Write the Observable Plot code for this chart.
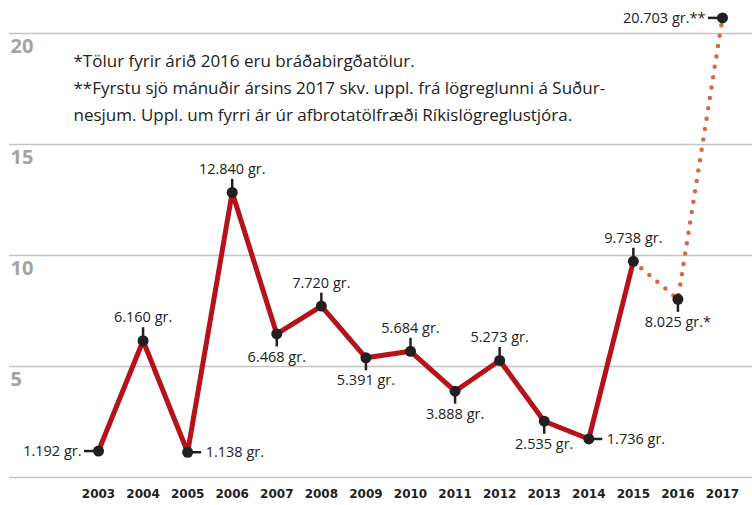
<!DOCTYPE html>
<html>
<head>
<meta charset="utf-8">
<script src="https://cdn.jsdelivr.net/npm/d3@7"></script>
<script src="https://cdn.jsdelivr.net/npm/@observablehq/plot@0.6"></script>
<style>
  html, body { margin: 0; padding: 0; background: #fff; }
  #chart svg { display: block; }
</style>
</head>
<body>
<div id="chart"></div>
<script>
const years = [2003, 2004, 2005, 2006, 2007, 2008, 2009, 2010, 2011, 2012, 2013, 2014, 2015, 2016, 2017];
const grams = [1192, 6160, 1138, 12840, 6468, 7720, 5391, 5684, 3888, 5273, 2535, 1736, 9738, 8025, 20703];
const suffixes = ["", "", "", "", "", "", "", "", "", "", "", "", "", "*", "**"];
const labelSide = ["left", "above", "right", "above", "below", "above", "below", "above", "below", "above", "below", "right", "above", "below", "left"];
const solidYears = [2003, 2004, 2005, 2006, 2007, 2008, 2009, 2010, 2011, 2012, 2013, 2014, 2015];
const dottedYears = [2015, 2016, 2017];
const yTicks = [0, 5, 10, 15, 20];
const yTickLabels = ["5", "10", "15", "20"];
const noteLines = [
  "*Tölur fyrir árið 2016 eru bráðabirgðatölur.",
  "**Fyrstu sjö mánuðir ársins 2017 skv. uppl. frá lögreglunni á Suður-",
  "nesjum. Uppl. um fyrri ár úr afbrotatölfræði Ríkislögreglustjóra."
];

const data = years.map((year, i) => ({
  year,
  value: grams[i] / 1000,
  label: (grams[i] / 1000).toFixed(3) + " gr." + suffixes[i],
  side: labelSide[i]
}));
const bySide = s => data.filter(d => d.side === s);
const solid = data.filter(d => solidYears.includes(d.year));
const dotted = data.filter(d => dottedYears.includes(d.year));

const font = "'Open Sans', sans-serif";
const labelStyle = {fontSize: 14.5, fontFamily: font, fill: "#222"};
const tickStyle = {stroke: "#231f20", strokeWidth: 2.5};

const chart = Plot.plot({
  width: 752,
  height: 505,
  marginTop: 33,
  marginBottom: 28,
  marginLeft: 9,
  marginRight: 0,
  x: {type: "linear", domain: [2003, 2017], range: [98, 722], axis: null},
  y: {domain: [0, 20], axis: null},
  style: {fontFamily: font, background: "#fff"},
  marks: [
    Plot.ruleY(yTicks, {stroke: "#c4c4c4", strokeWidth: 1.5}),
    Plot.text(yTickLabels, {
      y: d => +d, text: d => d, frameAnchor: "left", textAnchor: "start",
      dx: 1, dy: 13, fontSize: 20, fontWeight: 700, fill: "#a3a3a3", fontFamily: font
    }),
    Plot.text(years, {
      x: d => d, text: d => String(d), frameAnchor: "bottom", dy: 20,
      fontSize: 12, fontWeight: 700, fill: "#222", fontFamily: "'DejaVu Sans', sans-serif"
    }),
    Plot.text([noteLines.join("\n")], {
      frameAnchor: "top-left", lineAnchor: "top", textAnchor: "start",
      dx: 64, dy: 14, fontSize: 17, lineHeight: 1.6, fill: "#222", fontFamily: font
    }),
    Plot.line(solid, {x: "year", y: "value", stroke: "#b5121b", strokeWidth: 5, strokeLinejoin: "miter"}),
    Plot.line(dotted, {x: "year", y: "value", stroke: "#d4694a", strokeWidth: 4.5, strokeLinecap: "round", strokeDasharray: "0,10.5"}),
    Plot.ruleX(bySide("above"), {x: "year", y1: "value", y2: "value", insetTop: -13, insetBottom: 0, ...tickStyle}),
    Plot.ruleX(bySide("below"), {x: "year", y1: "value", y2: "value", insetTop: 0, insetBottom: -13, ...tickStyle}),
    Plot.ruleY(bySide("left"), {y: "value", x1: "year", x2: "year", insetLeft: -14, insetRight: 0, ...tickStyle}),
    Plot.ruleY(bySide("right"), {y: "value", x1: "year", x2: "year", insetLeft: 0, insetRight: -14, ...tickStyle}),
    Plot.dot(data, {x: "year", y: "value", r: 5.5, fill: "#231f20", stroke: "none"}),
    Plot.text(bySide("above"), {x: "year", y: "value", text: "label", dy: -23, ...labelStyle}),
    Plot.text(bySide("below"), {x: "year", y: "value", text: "label", dy: 23, ...labelStyle}),
    Plot.text(bySide("left"), {x: "year", y: "value", text: "label", dx: -17, textAnchor: "end", ...labelStyle}),
    Plot.text(bySide("right"), {x: "year", y: "value", text: "label", dx: 18, textAnchor: "start", ...labelStyle})
  ]
});
document.getElementById("chart").appendChild(chart);
</script>
</body>
</html>
